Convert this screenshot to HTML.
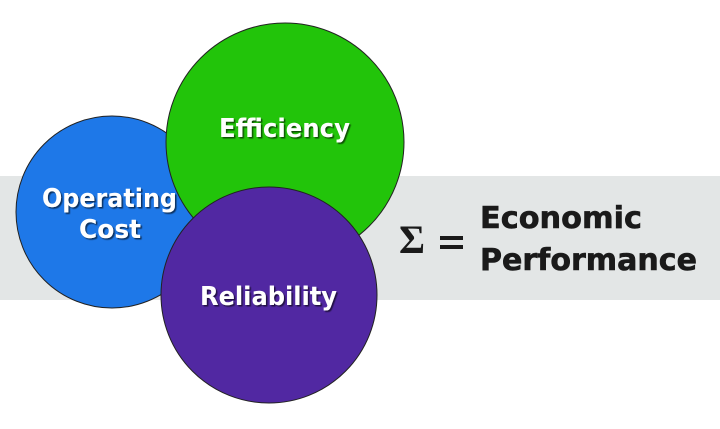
<!DOCTYPE html>
<html><head><style>html,body{margin:0;padding:0;background:#fff}</style></head>
<body>
<svg width="720" height="429" xmlns="http://www.w3.org/2000/svg" style="display:block">
<defs><filter id="s" x="-10%" y="-10%" width="120%" height="130%"><feDropShadow dx="1.5" dy="1.5" stdDeviation="0.6" flood-color="#000" flood-opacity="0.6"/></filter></defs>
<rect x="0" y="176" width="720" height="124" fill="#e3e6e6"/>
<circle cx="112" cy="212" r="96" fill="#1e78e8" stroke="#222" stroke-width="1"/>
<circle cx="285" cy="142" r="119" fill="#22c40a" stroke="#222" stroke-width="1"/>
<circle cx="269" cy="295" r="108" fill="#5128a2" stroke="#222" stroke-width="1"/>
<g font-family="DejaVu Sans, Verdana, sans-serif" font-weight="bold" fill="#fff" font-size="26" filter="url(#s)">
<text x="219" y="137" textLength="131" lengthAdjust="spacingAndGlyphs">Efficiency</text>
<text x="42" y="207" textLength="135" lengthAdjust="spacingAndGlyphs">Operating</text>
<text x="79" y="238" textLength="62" lengthAdjust="spacingAndGlyphs">Cost</text>
<text x="200" y="305" textLength="137" lengthAdjust="spacingAndGlyphs">Reliability</text>
</g>
<text x="399" y="253" font-family="Liberation Serif, serif" font-weight="bold" font-size="40" fill="#1a1a1a" textLength="26" lengthAdjust="spacingAndGlyphs">Σ</text>
<rect x="440" y="236" width="23" height="4" fill="#1a1a1a"/>
<rect x="440" y="245" width="23" height="4" fill="#1a1a1a"/>
<g font-family="DejaVu Sans, Verdana, sans-serif" font-weight="bold" fill="#1a1a1a" font-size="30" stroke="#1a1a1a" stroke-width="0.6">
<text x="480" y="228" textLength="162" lengthAdjust="spacingAndGlyphs">Economic</text>
<text x="480" y="270" textLength="217" lengthAdjust="spacingAndGlyphs">Performance</text>
</g>
</svg>
</body></html>
